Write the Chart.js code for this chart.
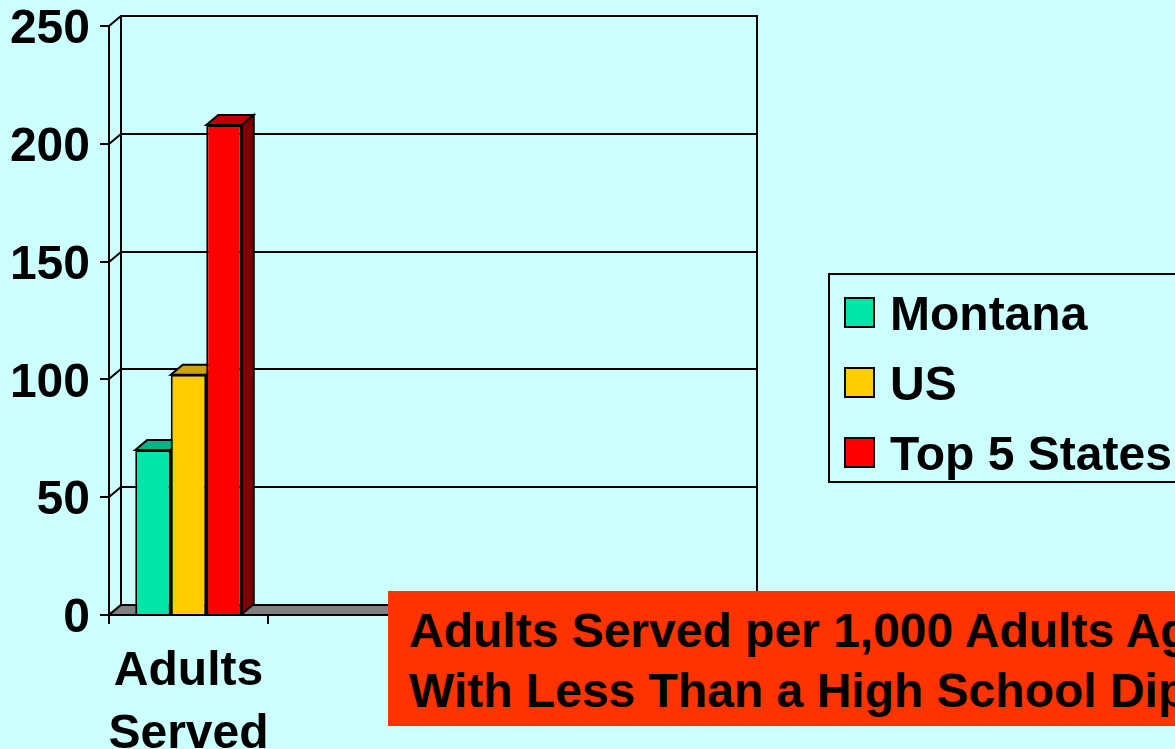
<!DOCTYPE html>
<html>
<head>
<meta charset="utf-8">
<script src="https://cdn.jsdelivr.net/npm/chart.js@4/dist/chart.umd.min.js"></script>
<style>
  html, body { margin: 0; padding: 0; background: #ccffff; overflow: hidden; }
  #wrap { position: relative; width: 1175px; height: 749px; }
  #chart { position: absolute; left: 0; top: 0; }
  .txt { font-family: 'Liberation Sans', Arial, sans-serif; font-weight: bold; font-size: 48px; color: #000; white-space: nowrap; }
  #legend { position: absolute; left: 828px; top: 273px; width: 400px; height: 206px; border: 2px solid #000; }
  .item { position: absolute; left: 14px; height: 48px; line-height: 48px; }
  .swatch { position: absolute; left: 0; top: 7px; width: 27px; height: 27px; border: 2px solid #000; }
  .item span { position: absolute; left: 46px; top: 0; }
  #note { position: absolute; left: 388px; top: 591px; width: 900px; height: 125px; padding-top: 10px; padding-left: 21px; background: #ff3300; line-height: 60px; }
</style>
</head>
<body>
<div id="wrap">
  <canvas id="chart" width="1175" height="749"></canvas>
  <div id="legend" class="txt"></div>
  <div id="note" class="txt">Adults Served per 1,000 Adults Age 16+<br>With Less Than a High School Diploma</div>
</div>
<script>
const categories = [['Adults', 'Served'], '', '', ''];
const seriesNames = ['Montana', 'US', 'Top 5 States'];
const montana = [70, null, null, null];
const us = [102, null, null, null];
const top5 = [208, null, null, null];
const yMax = 250;
const yStep = 50;

const frontColors = ['#00e6a8', '#ffcc00', '#ff0000'];
const topColors = ['#00b386', '#cca300', '#c00000'];
const sideColors = ['#008060', '#806600', '#800000'];

const depthX = 12;
const depthY = 10;
const font = { family: "'Liberation Sans', Arial, sans-serif", size: 48, weight: 'bold' };

// back wall, floor and the top/side faces of the bars
const threeD = {
  id: 'threeD',
  beforeDatasetsDraw(chart) {
    const { ctx, chartArea: a, scales: { y } } = chart;
    const L = Math.round(a.left), R = Math.round(a.right);
    const T = Math.round(a.top), B = Math.round(a.bottom);
    ctx.save();
    ctx.strokeStyle = '#000';
    ctx.lineWidth = 2;

    y.ticks.forEach(t => {
      const py = Math.round(y.getPixelForValue(t.value));
      ctx.beginPath();
      ctx.moveTo(L, py);
      ctx.lineTo(L + depthX, py - depthY);
      ctx.lineTo(R + depthX, py - depthY);
      ctx.stroke();
    });

    ctx.beginPath();
    ctx.moveTo(L + depthX, B - depthY);
    ctx.lineTo(L + depthX, T - depthY);
    ctx.lineTo(R + depthX, T - depthY);
    ctx.lineTo(R + depthX, B - depthY);
    ctx.stroke();

    ctx.beginPath();
    ctx.moveTo(L, B);
    ctx.lineTo(L + depthX, B - depthY);
    ctx.lineTo(R + depthX, B - depthY);
    ctx.lineTo(R, B);
    ctx.closePath();
    ctx.fillStyle = '#808080';
    ctx.fill();
    ctx.stroke();

    chart.data.datasets.forEach((ds, i) => {
      chart.getDatasetMeta(i).data.forEach((bar, j) => {
        if (ds.data[j] == null) return;
        const { x, y: top, base, width } = bar.getProps(['x', 'y', 'base', 'width'], true);
        const l = x - width / 2;
        const r = x + width / 2;

        ctx.beginPath();
        ctx.moveTo(l, top);
        ctx.lineTo(l + depthX, top - depthY);
        ctx.lineTo(r + depthX, top - depthY);
        ctx.lineTo(r, top);
        ctx.closePath();
        ctx.fillStyle = topColors[i];
        ctx.fill();
        ctx.stroke();

        ctx.beginPath();
        ctx.moveTo(r, top);
        ctx.lineTo(r + depthX, top - depthY);
        ctx.lineTo(r + depthX, base - depthY);
        ctx.lineTo(r, base);
        ctx.closePath();
        ctx.fillStyle = sideColors[i];
        ctx.fill();
        ctx.stroke();
      });
    });
    ctx.restore();
  }
};

new Chart(document.getElementById('chart'), {
  type: 'bar',
  data: {
    labels: categories,
    datasets: [montana, us, top5].map((d, i) => ({
      label: seriesNames[i],
      data: d,
      backgroundColor: frontColors[i],
      borderColor: '#000',
      borderWidth: 2,
      categoryPercentage: 0.67,
      barPercentage: 1
    }))
  },
  options: {
    responsive: false,
    animation: false,
    layout: { padding: { top: 26, right: 430, left: 0, bottom: 0 } },
    scales: {
      x: {
        grid: { drawOnChartArea: false, color: '#000', lineWidth: 2, tickLength: 9 },
        border: { color: '#000', width: 2 },
        ticks: { color: '#000', font: { ...font, lineHeight: 1.3 }, padding: 17, maxRotation: 0, autoSkip: false },
        afterFit(scale) { scale.height = 134; }
      },
      y: {
        min: 0,
        max: yMax,
        grid: { drawOnChartArea: false, color: '#000', lineWidth: 2, tickLength: 9 },
        border: { color: '#000', width: 2 },
        ticks: { stepSize: yStep, color: '#000', font: { ...font, lineHeight: 1 }, padding: 10, labelOffset: 4 },
        afterFit(scale) {
          scale.width = 109;
          scale.paddingTop = 0;
          scale.paddingBottom = 0;
        }
      }
    },
    plugins: {
      legend: { display: false },
      tooltip: { enabled: false }
    }
  },
  plugins: [threeD]
});

// legend
const legend = document.getElementById('legend');
seriesNames.forEach((name, i) => {
  const item = document.createElement('div');
  item.className = 'item';
  item.style.top = (15 + i * 70) + 'px';
  item.innerHTML = '<div class="swatch" style="background:' + frontColors[i] + '"></div><span>' + name + '</span>';
  legend.appendChild(item);
});
</script>
</body>
</html>
